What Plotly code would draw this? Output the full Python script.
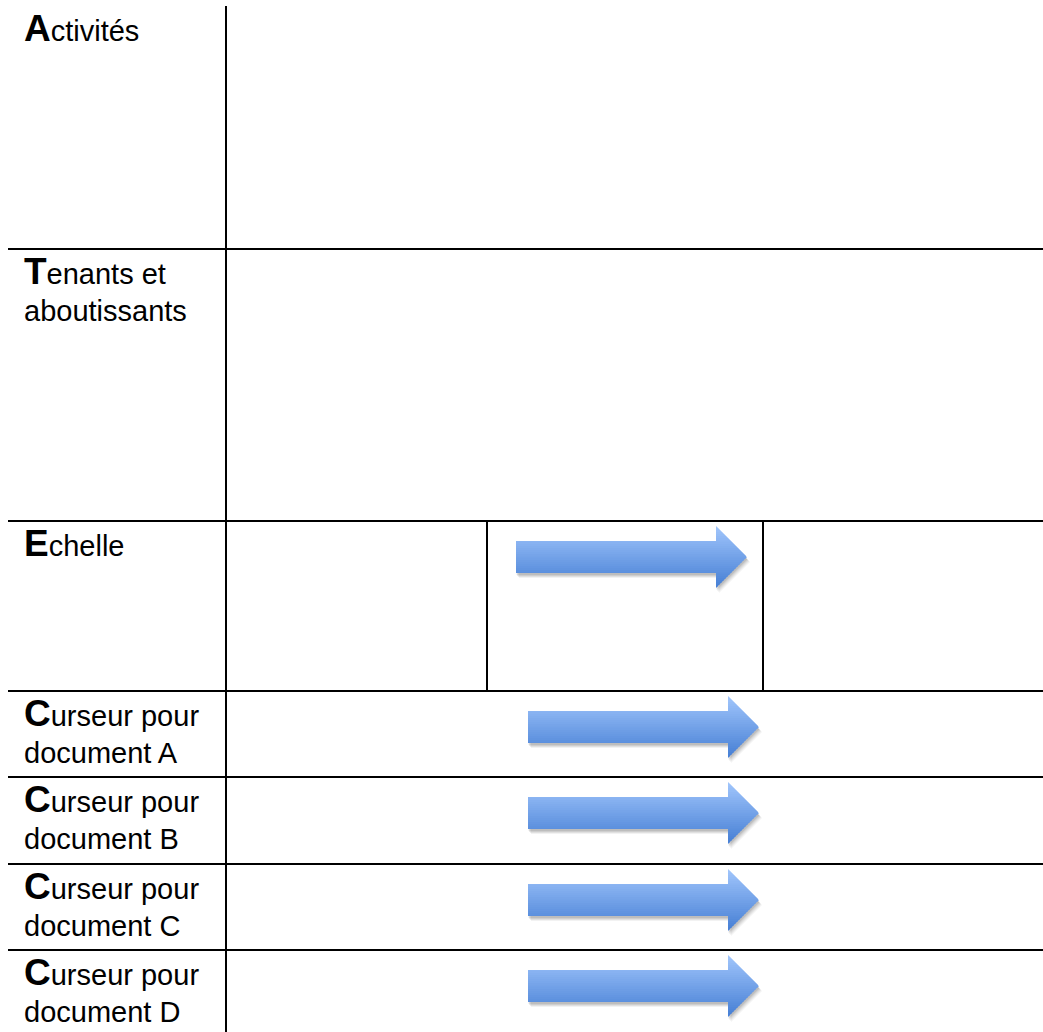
import plotly.graph_objects as go

# ---- content ----
row_initials = ["A", "T", "E", "C", "C", "C", "C"]
row_line1 = ["ctivités", "enants et", "chelle", "urseur pour", "urseur pour", "urseur pour", "urseur pour"]
row_line2 = ["", "aboutissants", "", "document A", "document B", "document C", "document D"]
# rows that carry an arrow (index) and the arrow's horizontal span
arrow_rows = [2, 3, 4, 5, 6]
arrow_x_start = [516, 528, 528, 528, 528]
arrow_x_tip = [747, 759, 759, 759, 759]

# ---- layout geometry (pixels) ----
W, H = 1043, 1032
row_tops = [6, 249, 521, 691, 777, 864, 950]
table_bottom = 1032
label_x = 23
col_x = 226
line_left = 8
echelle_cols = [487, 763]
arrow_dy = 36          # arrow axis below row top
body_half = 16
head_half = 31
head_len = 31
font_reg = 29
font_cap = 37
ink = "#000000"

fig = go.Figure()
shapes = []
annotations = []

# table lines
shapes.append(dict(type="line", x0=col_x, x1=col_x, y0=row_tops[0], y1=table_bottom,
                   line=dict(color=ink, width=2)))
for yt in row_tops[1:]:
    shapes.append(dict(type="line", x0=line_left, x1=W, y0=yt, y1=yt,
                       line=dict(color=ink, width=2)))
ech = row_tops[2]
for xc in echelle_cols:
    shapes.append(dict(type="line", x0=xc, x1=xc, y0=ech, y1=row_tops[3],
                       line=dict(color=ink, width=2)))

def arrow_path(x0, xt, yc, dx=0.0, dy=0.0):
    xh = xt - head_len
    pts = [(x0, yc - body_half), (xh, yc - body_half), (xh, yc - head_half), (xt, yc),
           (xh, yc + head_half), (xh, yc + body_half), (x0, yc + body_half)]
    return "M " + " L ".join(f"{px+dx:.2f},{py+dy:.2f}" for px, py in pts) + " Z"

def right_edge(y, xh, xt, yc):
    return xh + (xt - xh) * (1 - abs(y - yc) / head_half)

c_top = (162, 198, 252)
c_bot = (68, 126, 212)

def color_at(t):
    r = [round(a + (b - a) * t) for a, b in zip(c_top, c_bot)]
    return f"rgb({r[0]},{r[1]},{r[2]})"

for ri, xs, xt in zip(arrow_rows, arrow_x_start, arrow_x_tip):
    yc = row_tops[ri] + arrow_dy
    xh = xt - head_len
    # soft shadow
    for (dx, dy, a) in [(3, 5, 0.05), (2, 4, 0.07), (1, 3, 0.08), (0.5, 2, 0.08)]:
        shapes.append(dict(type="path", path=arrow_path(xs, xt, yc, dx, dy),
                           fillcolor=f"rgba(0,0,0,{a})", line=dict(width=0), layer="above"))
    # gradient slices
    bounds = []
    n = 31
    top, bot = yc - head_half, yc + head_half
    for i in range(n + 1):
        bounds.append(top + (bot - top) * i / n)
    bounds += [yc - body_half, yc + body_half, yc]
    bounds = sorted(set(round(b, 3) for b in bounds))
    for ya, yb in zip(bounds[:-1], bounds[1:]):
        ym = (ya + yb) / 2
        in_body = (yc - body_half) <= ym <= (yc + body_half)
        left = xs if in_body else xh
        ra = right_edge(ya, xh, xt, yc)
        ov = 0.6
        yb2 = min(yb + ov, bot) if not (in_body and abs(yb - (yc + body_half)) < 1e-6) else yb
        path = (f"M {left:.2f},{ya:.2f} L {ra:.2f},{ya:.2f} L {right_edge(yb2, xh, xt, yc):.2f},{yb2:.2f} "
                f"L {left:.2f},{yb2:.2f} Z")
        t = (ym - top) / (bot - top)
        shapes.append(dict(type="path", path=path, fillcolor=color_at(t),
                           line=dict(width=0), layer="above"))

# labels
for i, (ini, l1, l2) in enumerate(zip(row_initials, row_line1, row_line2)):
    yt = row_tops[i]
    annotations.append(dict(
        x=label_x, y=yt + 44, xref="x", yref="y", xanchor="left", yanchor="bottom",
        text=f"<b><span style='font-size:{font_cap}px'>{ini}</span></b>{l1}",
        showarrow=False, font=dict(family="Liberation Sans, Arial", size=font_reg, color=ink),
        borderpad=0))
    if l2:
        annotations.append(dict(
            x=label_x, y=yt + 79, xref="x", yref="y", xanchor="left", yanchor="bottom",
            text=l2, showarrow=False,
            font=dict(family="Liberation Sans, Arial", size=font_reg, color=ink),
            borderpad=0))

fig.update_layout(
    width=W, height=H, margin=dict(l=0, r=0, t=0, b=0),
    paper_bgcolor="white", plot_bgcolor="white",
    xaxis=dict(range=[0, W], visible=False, fixedrange=True),
    yaxis=dict(range=[H, 0], visible=False, fixedrange=True),
    shapes=shapes, annotations=annotations, showlegend=False,
)

fig.write_html("out.html", config={"displayModeBar": False},
               post_script="document.body.style.margin='0';document.body.style.overflow='hidden';")
